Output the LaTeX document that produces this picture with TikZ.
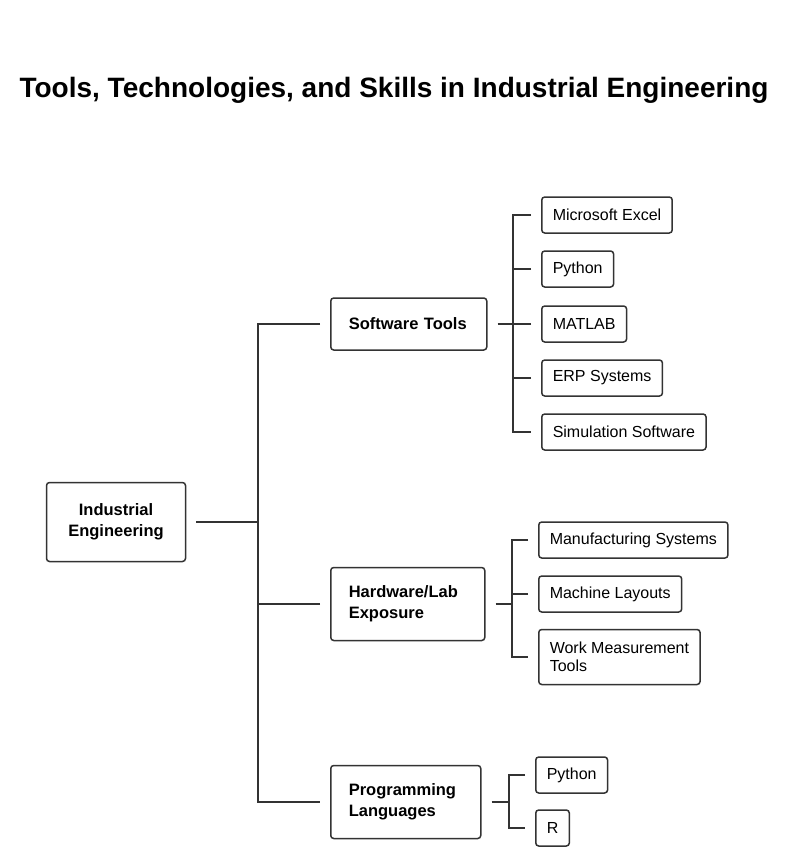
\documentclass[tikz,border=0pt]{standalone}
\usepackage{fontspec}
\setmainfont{Liberation Sans}
\usepackage{tikz}

\begin{document}
\begin{tikzpicture}[x=1pt,y=-1pt,
  line width=1.5pt, draw=black!80,
  rootbox/.style={draw, rounded corners=3pt, align=center, font=\fontsize{16.5}{21}\selectfont\bfseries,
    minimum width=139pt, minimum height=79pt},
  branchbox/.style={draw, rounded corners=3pt, align=left, font=\fontsize{16.5}{21}\selectfont\bfseries,
    inner xsep=18pt, minimum height=52pt, anchor=west},
  leafbox/.style={draw, rounded corners=3pt, align=left, font=\fontsize{16}{18}\selectfont,
    inner xsep=11pt, minimum height=36pt, anchor=west}]
  \useasboundingbox (0,0) rectangle (809,867);
  \node[font=\fontsize{28}{30}\selectfont\bfseries] (title) at (394,90) {Tools, Technologies, and Skills in Industrial Engineering};

  \node[rootbox] (root) at (116,522) {Industrial\\Engineering};
  \coordinate (trunk) at (258,522);

  \node[branchbox, text width=120pt] (sw) at (330,324) {Software Tools};
  \node[branchbox, text width=118pt, minimum height=73pt] (hw) at (330,604) {Hardware/Lab\\Exposure};
  \node[branchbox, text width=114pt, minimum height=73pt] (pl) at (330,802) {Programming\\Languages};

  \draw ([xshift=10pt]root.east) -- (trunk);
  \draw ([xshift=-10pt]sw.west) -- (sw.west -| trunk) -- (pl.west -| trunk) -- ([xshift=-10pt]pl.west);
  \draw ([xshift=-10pt]hw.west) -- (hw.west -| trunk);

  % software tools
  \node[leafbox] (excel) at (541,215) {Microsoft Excel};
  \node[leafbox] (py1) at (541,269) {Python};
  \node[leafbox] (matlab) at (541,324) {MATLAB};
  \node[leafbox] (erp) at (541,378) {ERP Systems};
  \node[leafbox] (sim) at (541,432) {Simulation Software};
  \coordinate (swb) at (513,324);
  \draw ([xshift=10pt]sw.east) -- (swb);
  \draw ([xshift=-10pt]excel.west) -- (excel.west -| swb) -- (sim.west -| swb) -- ([xshift=-10pt]sim.west);
  \foreach \n in {py1,matlab,erp}
    \draw ([xshift=-10pt]\n.west) -- (\n.west -| swb);

  % hardware / lab
  \node[leafbox] (manuf) at (538,540) {Manufacturing Systems};
  \node[leafbox] (layout) at (538,594) {Machine Layouts};
  \node[leafbox, minimum height=55pt] (work) at (538,657) {Work Measurement\\Tools};
  \coordinate (hwb) at (512,604);
  \draw ([xshift=10pt]hw.east) -- (hwb);
  \draw ([xshift=-10pt]manuf.west) -- (manuf.west -| hwb) -- (work.west -| hwb) -- ([xshift=-10pt]work.west);
  \draw ([xshift=-10pt]layout.west) -- (layout.west -| hwb);

  % programming
  \node[leafbox] (py2) at (535,775) {Python};
  \node[leafbox] (rlang) at (535,828) {R};
  \coordinate (plb) at (509,802);
  \draw ([xshift=10pt]pl.east) -- (plb);
  \draw ([xshift=-10pt]py2.west) -- (py2.west -| plb) -- (rlang.west -| plb) -- ([xshift=-10pt]rlang.west);
\end{tikzpicture}
\end{document}
